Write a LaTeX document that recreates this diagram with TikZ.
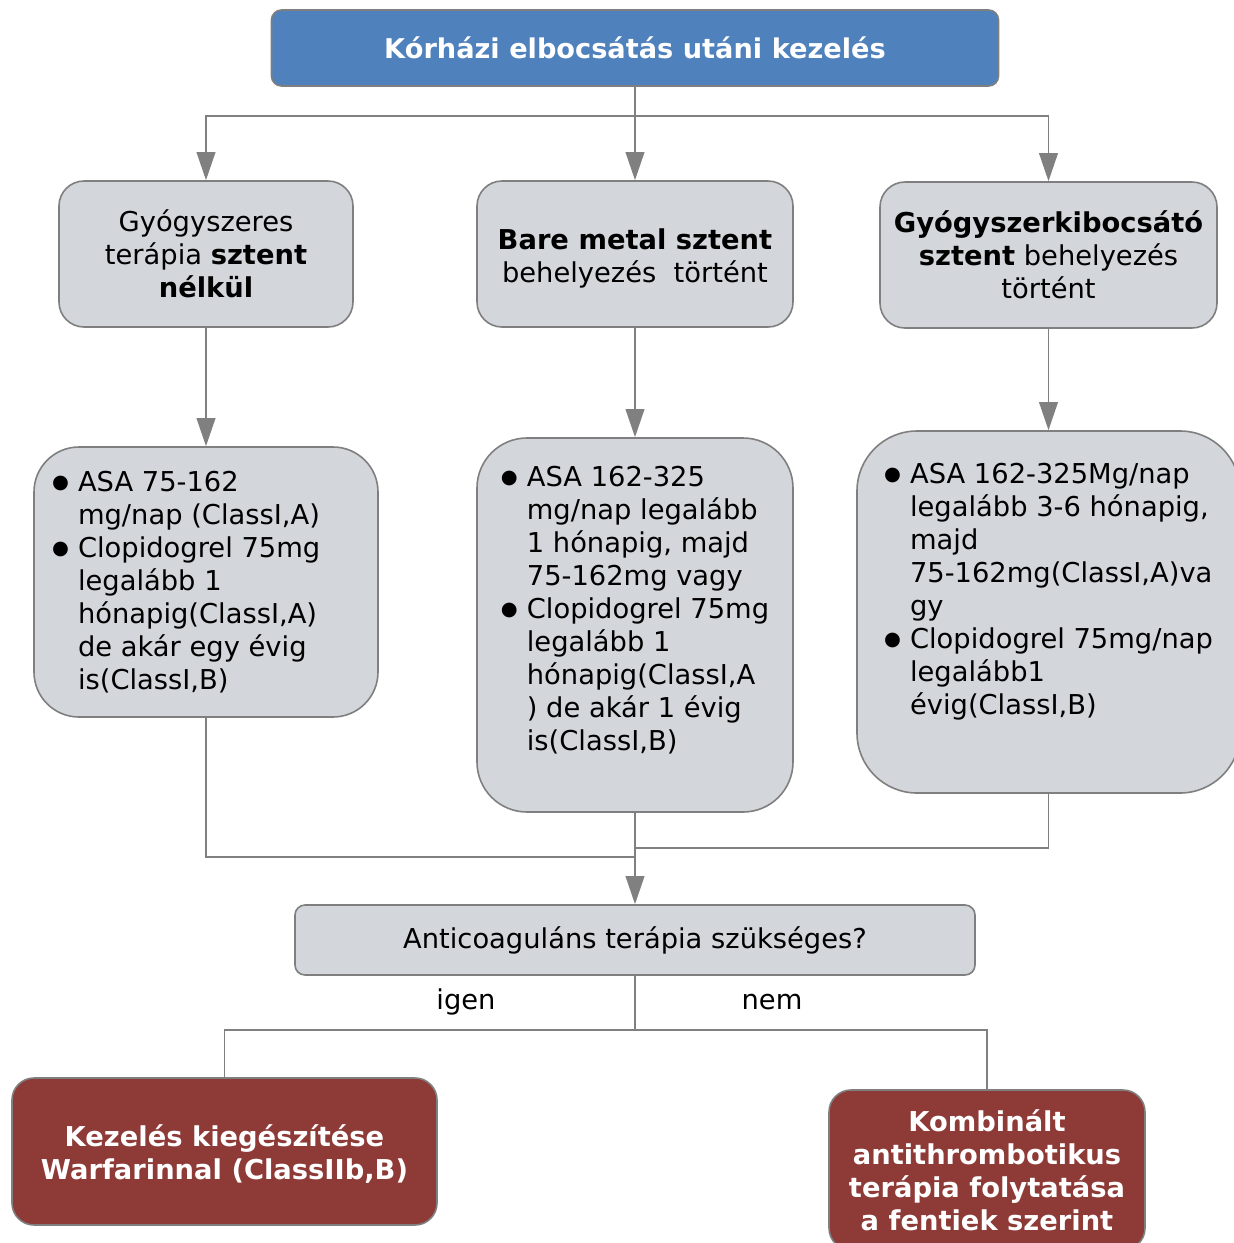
\documentclass[tikz,border=0pt]{standalone}
\usepackage{fontspec}
\setmainfont{DejaVu Sans}
\usetikzlibrary{arrows.meta}

% one drawing unit = 0.75pt
\newdimen\pxu \pxu=0.75pt

\definecolor{headblue}{HTML}{4F81BD}
\definecolor{boxgray}{HTML}{D3D7DB}
\definecolor{edgegray}{HTML}{7F7F7F}
\definecolor{linegray}{HTML}{808080}
\definecolor{resultred}{HTML}{8E3B38}

\newcommand\blt{\makebox[19.5pt][l]{\raisebox{2.2pt}{\fontsize{14.5}{14.5}\selectfont ●}}}
\newcommand\ind{\hspace*{19.5pt}}

\begin{document}
\begin{tikzpicture}[x=0.75pt, y=-0.75pt,
  font=\fontsize{20.5}{24.75}\selectfont,
  box/.style={draw=edgegray, line width=1.2pt, fill=boxgray, align=center, inner sep=0pt},
  headbox/.style={box, fill=headblue, text=white, font=\fontsize{20.4}{24.75}\selectfont\bfseries, rounded corners=10\pxu},
  stentbox/.style={box, rounded corners=25\pxu, minimum height=146\pxu},
  listbox/.style={box, align=left},
  resultbox/.style={box, fill=resultred, text=white, font=\fontsize{20.5}{24.75}\selectfont\bfseries, rounded corners=22\pxu},
  arr/.style={draw=linegray, line width=1.2pt, -{Triangle[length=21pt, width=14pt]}},
  conn/.style={draw=linegray, line width=1.2pt},
  answer/.style={inner sep=0pt}
]
\useasboundingbox (0,0) rectangle (1233,1243);

% header
\node[headbox, minimum width=727\pxu, minimum height=76\pxu] (top) at (635,48)
  {Kórházi elbocsátás utáni kezelés};

% stent choice
\node[stentbox, minimum width=294\pxu] (s1) at (206,254)
  {Gyógyszeres\\terápia \textbf{sztent}\\\textbf{nélkül}};
\node[stentbox, minimum width=316\pxu] (s2) at (635,254)
  {\rule{0pt}{23pt}\textbf{Bare metal sztent}\\behelyezés\ \ történt};
\node[stentbox, minimum width=337\pxu] (s3) at (1048.5,255)
  {\textbf{Gyógyszerkibocsátó}\\\textbf{sztent} behelyezés\\történt};

% medication
\node[listbox, rounded corners=45\pxu, minimum width=344\pxu, minimum height=270\pxu] (t1) at (206,582)
  {\blt ASA 75-162\\
   \ind mg/nap (ClassI,A)\rule{30pt}{0pt}\\
   \blt Clopidogrel 75mg\\
   \ind legalább 1\\
   \ind hónapig(ClassI,A)\\
   \ind de akár egy évig\\
   \ind is(ClassI,B)};
\node[listbox, rounded corners=50\pxu, minimum width=316\pxu, minimum height=374\pxu] (t2) at (635,625)
  {\blt ASA 162-325\\
   \ind mg/nap legalább\\
   \ind 1 hónapig, majd\\
   \ind 75-162mg vagy\\
   \blt Clopidogrel 75mg\\
   \ind legalább 1\\
   \ind hónapig(ClassI,A\\
   \ind ) de akár 1 évig\\
   \ind is(ClassI,B)\\
   \mbox{}};
\node[listbox, rounded corners=60\pxu, minimum width=383\pxu, minimum height=362\pxu] (t3) at (1048.5,612)
  {\blt ASA 162-325Mg/nap\\
   \ind legalább 3-6 hónapig,\\
   \ind majd\\
   \ind 75-162mg(ClassI,A)va\\
   \ind gy\\
   \blt Clopidogrel 75mg/nap\\
   \ind legalább1\\
   \ind évig(ClassI,B)\\[10pt]
   \mbox{}};

% question
\node[box, rounded corners=10\pxu, minimum width=680\pxu, minimum height=70\pxu] (q) at (635,940)
  {Anticoaguláns terápia szükséges?};

% outcomes
\node[resultbox, minimum width=425\pxu, minimum height=147\pxu] (yes) at (224.5,1151.5)
  {\rule{0pt}{20pt}Kezelés kiegészítése\\Warfarinnal (ClassIIb,B)};
\node[resultbox, minimum width=316\pxu, minimum height=160\pxu] (no) at (987,1170)
  {Kombinált\\antithrombotikus\\terápia folytatása\\a fentiek szerint};

% branching from the header
\coordinate (split) at (635,116);
\draw[conn] (top.south) -- (split);
\draw[arr] (split) -- (s2.north);
\draw[arr] (split) -| (s1.north);
\draw[arr] (split) -| (s3.north);

% stent type to medication
\draw[arr] (s1.south) -- (t1.north);
\draw[arr] (s2.south) -- (t2.north);
\draw[arr] (s3.south) -- (t3.north);

% merging into the question
\coordinate (joinL) at (635,857);
\coordinate (joinR) at (635,848);
\draw[conn] (t1.south) |- (joinL);
\draw[conn] (t3.south) |- (joinR);
\draw[arr] (t2.south) -- (q.north);

% answers
\coordinate (fork) at (635,1030);
\draw[conn] (q.south) -- (fork);
\draw[conn] (fork) -| (yes.north);
\draw[conn] (fork) -| (no.north);
\node[answer] (lyes) at (466,1002) {igen};
\node[answer] (lno) at (772,1002) {nem};
\end{tikzpicture}
\end{document}
